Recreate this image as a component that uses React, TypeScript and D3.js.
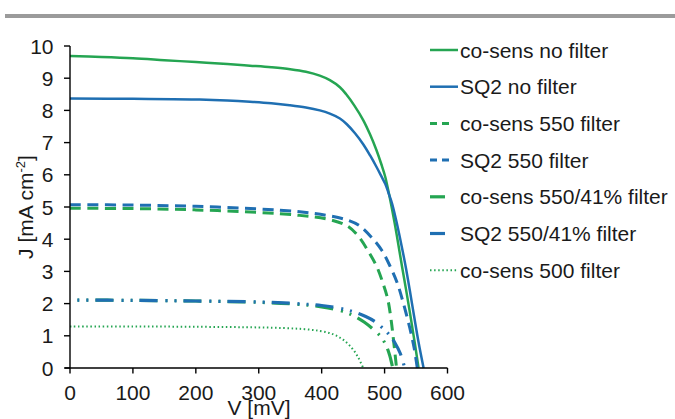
import React from "react";
import * as d3 from "d3";

const V_TICKS = [0, 100, 200, 300, 400, 500, 600];
const J_TICKS = [0, 1, 2, 3, 4, 5, 6, 7, 8, 9, 10];

const coSensNoFilter: [number, number][] = [
  [0, 9.69], [50, 9.66], [100, 9.62], [150, 9.56], [200, 9.5], [250, 9.44], [286, 9.39], [320, 9.34],
  [350, 9.28], [375, 9.2], [397, 9.08], [413, 8.94], [429, 8.72], [439, 8.5], [452, 8.15], [466, 7.7],
  [477, 7.25], [487, 6.77], [495, 6.32], [501, 5.94], [509, 5.22], [516, 4.5], [522, 3.82], [528, 3.12],
  [534, 2.45], [540, 1.75], [546, 1.02], [550, 0.52], [554, 0],
];
const sq2NoFilter: [number, number][] = [
  [0, 8.37], [100, 8.36], [206, 8.34], [250, 8.31], [286, 8.27], [320, 8.22], [349, 8.16], [375, 8.09],
  [397, 8.0], [413, 7.9], [429, 7.75], [440, 7.57], [453, 7.29], [466, 6.95], [477, 6.6], [487, 6.25],
  [495, 5.95], [501, 5.72], [506, 5.45], [512, 5.1], [520, 4.45], [527, 3.8], [534, 3.1], [540, 2.42],
  [547, 1.6], [554, 0.8], [562, 0],
];
const coSens550: [number, number][] = [
  [0, 4.96], [100, 4.95], [200, 4.91], [300, 4.83], [365, 4.74], [408, 4.63], [440, 4.42], [458, 4.1],
  [474, 3.63], [488, 3.13], [498, 2.6], [505, 2.14], [510, 1.55], [514, 0.9], [519, 0],
];
const sq2550: [number, number][] = [
  [0, 5.07], [100, 5.06], [200, 5.02], [300, 4.94], [365, 4.85], [408, 4.74], [440, 4.6], [460, 4.42],
  [481, 4.02], [496, 3.64], [509, 3.15], [520, 2.65], [530, 2.0], [540, 1.25], [547, 0.62], [552, 0],
];
const coSens55041: [number, number][] = [
  [0, 2.11], [100, 2.1], [200, 2.08], [300, 2.04], [360, 1.98], [400, 1.9], [430, 1.78], [450, 1.63],
  [468, 1.42], [482, 1.2], [495, 0.95], [503, 0.67], [508, 0.4], [513, 0],
];
const sq255041: [number, number][] = [
  [0, 2.11], [100, 2.1], [200, 2.08], [300, 2.05], [360, 2.0], [400, 1.94], [430, 1.85], [450, 1.75],
  [470, 1.6], [485, 1.44], [497, 1.24], [508, 1.02], [517, 0.76], [525, 0.45], [532, 0],
];
const coSens500: [number, number][] = [
  [0, 1.29], [100, 1.29], [200, 1.28], [300, 1.26], [340, 1.24], [370, 1.21], [397, 1.15], [418, 1.05],
  [434, 0.88], [448, 0.62], [458, 0.33], [466, 0],
];

const SERIES_NAMES = [
  "co-sens no filter",
  "SQ2 no filter",
  "co-sens 550 filter",
  "SQ2 550 filter",
  "co-sens 550/41% filter",
  "SQ2 550/41% filter",
  "co-sens 500 filter",
];
const SERIES_DATA = [coSensNoFilter, sq2NoFilter, coSens550, sq2550, coSens55041, sq255041, coSens500];

const GREEN = "#25a552";
const BLUE = "#1f6fb2";

type Style = { color: string; width: number; dash?: string; offset: number; legendLen: number; legendDash?: string };
const STYLES: Style[] = [
  { color: GREEN, width: 2.5, offset: 0, legendLen: 28 },
  { color: BLUE, width: 2.5, offset: 0, legendLen: 28 },
  { color: GREEN, width: 3, dash: "11 6.5", offset: 0, legendLen: 19, legendDash: "7 5" },
  { color: BLUE, width: 3, dash: "11 6.5", offset: 0, legendLen: 19, legendDash: "7 5" },
  { color: GREEN, width: 3.2, dash: "18 8 2 7 2 7", offset: 18.5, legendLen: 15 },
  { color: BLUE, width: 3.2, dash: "18 8 2 7 2 7", offset: 18.5, legendLen: 15 },
  { color: GREEN, width: 2, dash: "1.5 2.6", offset: 0, legendLen: 28, legendDash: "1.5 2.6" },
];

const FONT = "Arial, 'Liberation Sans', sans-serif";
const TEXT = "#1a1a1a";
const FS = 21;

export default function App() {
  const W = 675;
  const H = 419;
  const x = d3.scaleLinear().domain([0, 600]).range([70, 447.5]);
  const y = d3.scaleLinear().domain([0, 10]).range([368, 46]);
  const line = d3
    .line<[number, number]>()
    .x((d) => x(d[0]))
    .y((d) => y(d[1]))
    .curve(d3.curveCatmullRom.alpha(0.5));

  const legendX = 430;
  const legendY0 = 50;
  const legendStep = 36.7;

  return (
    <svg
      width={W}
      height={H}
      style={{ position: "absolute", left: 0, top: 0, background: "#fff" }}
      fontFamily={FONT}
    >
      <rect x={0} y={0} width={W} height={H} fill="#fff" />
      <rect x={5} y={14} width={670} height={4} fill="#9b9b9b" />

      {SERIES_DATA.map((data, i) => (
        <path
          key={i}
          d={line(data) || ""}
          fill="none"
          stroke={STYLES[i].color}
          strokeWidth={STYLES[i].width}
          strokeDasharray={STYLES[i].dash}
          strokeDashoffset={STYLES[i].offset}
        />
      ))}

      <line x1={x(0)} x2={x(0)} y1={y(10)} y2={y(0)} stroke="#000" strokeWidth={1.4} />
      <line x1={x(0) - 5} x2={x(600)} y1={y(0)} y2={y(0)} stroke="#000" strokeWidth={1.4} />
      {J_TICKS.map((t) => (
        <g key={"y" + t}>
          <line x1={x(0) - 6} x2={x(0)} y1={y(t)} y2={y(t)} stroke="#000" strokeWidth={1.4} />
          <text x={53.5} y={y(t)} textAnchor="end" dominantBaseline="central" fontSize={FS} fill={TEXT}>
            {t}
          </text>
        </g>
      ))}
      {V_TICKS.map((t) => (
        <g key={"x" + t}>
          <line x1={x(t)} x2={x(t)} y1={y(0)} y2={y(0) + 5.5} stroke="#000" strokeWidth={1.4} />
          <text x={x(t)} y={400} textAnchor="middle" fontSize={FS} fill={TEXT}>
            {t}
          </text>
        </g>
      ))}

      <text x={259} y={415} textAnchor="middle" fontSize={FS} fill={TEXT}>
        V [mV]
      </text>
      <text transform="translate(33,207) rotate(-90)" textAnchor="middle" fontSize={FS} fill={TEXT}>
        J [mA cm
        <tspan fontSize={13} dy={-8}>
          -2
        </tspan>
        <tspan dy={8}>]</tspan>
      </text>

      {SERIES_NAMES.map((name, i) => {
        const ly = legendY0 + i * legendStep;
        const s = STYLES[i];
        return (
          <g key={"l" + i}>
            <line
              x1={legendX}
              x2={legendX + s.legendLen}
              y1={ly}
              y2={ly}
              stroke={s.color}
              strokeWidth={s.width}
              strokeDasharray={s.legendDash}
            />
            <text x={460} y={ly} dominantBaseline="central" fontSize={FS} fill={TEXT}>
              {name}
            </text>
          </g>
        );
      })}
    </svg>
  );
}
